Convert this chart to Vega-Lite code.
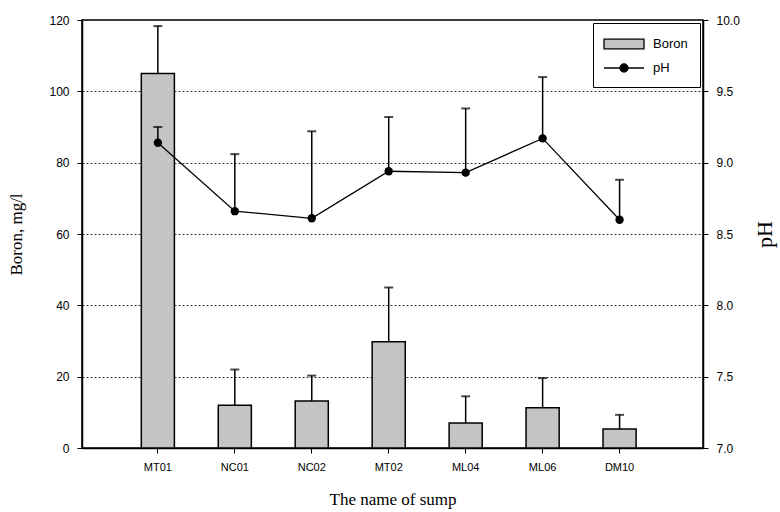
{
  "$schema": "https://vega.github.io/schema/vega-lite/v6.json",
  "width": 621,
  "height": 428,
  "autosize": {"type": "none"},
  "padding": {"left": 82, "top": 20, "right": 77, "bottom": 64},
  "background": "white",
  "config": {
    "view": {"stroke": "black", "strokeWidth": 1.5},
    "axis": {"labelFont": "Liberation Sans", "labelFontSize": 12, "labelColor": "black", "titleFont": "Liberation Serif", "titleFontWeight": "normal", "titleColor": "black", "domainColor": "black", "tickColor": "black"}
  },
  "data": {"values": [
    {"sump": "MT01", "boron": 105, "boron_hi": 118.3, "ph": 9.14, "ph_hi": 9.25, "s1": "Boron", "s2": "pH"},
    {"sump": "NC01", "boron": 12, "boron_hi": 22, "ph": 8.66, "ph_hi": 9.06, "s1": "Boron", "s2": "pH"},
    {"sump": "NC02", "boron": 13.2, "boron_hi": 20.3, "ph": 8.61, "ph_hi": 9.22, "s1": "Boron", "s2": "pH"},
    {"sump": "MT02", "boron": 29.8, "boron_hi": 45, "ph": 8.94, "ph_hi": 9.32, "s1": "Boron", "s2": "pH"},
    {"sump": "ML04", "boron": 7, "boron_hi": 14.5, "ph": 8.93, "ph_hi": 9.38, "s1": "Boron", "s2": "pH"},
    {"sump": "ML06", "boron": 11.3, "boron_hi": 19.6, "ph": 9.17, "ph_hi": 9.6, "s1": "Boron", "s2": "pH"},
    {"sump": "DM10", "boron": 5.3, "boron_hi": 9.3, "ph": 8.6, "ph_hi": 8.88, "s1": "Boron", "s2": "pH"}
  ]},
  "encoding": {
    "x": {"field": "sump", "type": "nominal", "sort": null,
      "scale": {"paddingInner": 0.57, "paddingOuter": 0.82, "align": 0.47},
      "axis": {"title": "The name of sump", "labelAngle": 0, "labelFontSize": 11, "titleFontSize": 17, "titlePadding": 19, "tickSize": 5, "labelPadding": 8, "domainWidth": 1.5}}
  },
  "layer": [
    {
      "layer": [
        {"mark": {"type": "bar", "stroke": "black", "strokeWidth": 1.5},
          "encoding": {
            "y": {"field": "boron", "type": "quantitative", "scale": {"domain": [0, 120], "nice": false},
              "axis": {"title": "Boron, mg/l", "values": [0, 20, 40, 60, 80, 100, 120], "titleFontSize": 17, "titlePadding": 23, "grid": true, "gridDash": [2, 2], "gridColor": "#333333", "gridWidth": 1, "tickSize": 5, "labelPadding": 8, "domainWidth": 1.5}},
            "color": {"field": "s1", "type": "nominal",
              "scale": {"domain": ["Boron", "pH"], "range": ["#c4c4c4", "black"]},
              "legend": {"title": null, "orient": "top-right", "offset": 3, "strokeColor": "black", "padding": 12, "fillColor": "white",
                "labelFont": "Liberation Sans", "labelFontSize": 13, "labelColor": "black", "symbolSize": 256, "rowPadding": 7, "labelOffset": 30,
                "symbolStrokeColor": "black", "symbolStrokeWidth": 1.3,
                "symbolType": {"expr": "datum.value === 'Boron' ? 'M-1.25,-0.6H3.75V0.6H-1.25Z' : 'M-1.25,0H0.75A0.5,0.5 0 1,1 1.75,0A0.5,0.5 0 1,1 0.75,0M1.75,0H3.75'"}}}}},
        {"mark": {"type": "rule", "color": "black", "strokeWidth": 1.5},
          "encoding": {"y": {"field": "boron", "type": "quantitative"}, "y2": {"field": "boron_hi"}}},
        {"mark": {"type": "tick", "color": "black", "thickness": 2, "size": 9},
          "encoding": {"y": {"field": "boron_hi", "type": "quantitative"}}}
      ]
    },
    {
      "layer": [
        {"mark": {"type": "line", "color": "black", "strokeWidth": 1.3},
          "encoding": {"y": {"field": "ph", "type": "quantitative", "scale": {"domain": [7, 10], "nice": false},
            "axis": {"title": "pH", "orient": "right", "values": [7, 7.5, 8, 8.5, 9, 9.5, 10], "format": ".1f", "titleFontSize": 22, "titleAngle": 270, "titlePadding": 37, "grid": false, "tickSize": 5, "labelPadding": 8, "domainWidth": 1.5}}}},
        {"mark": {"type": "rule", "color": "black", "strokeWidth": 1.5},
          "encoding": {"y": {"field": "ph", "type": "quantitative"}, "y2": {"field": "ph_hi"}}},
        {"mark": {"type": "tick", "color": "black", "thickness": 2, "size": 9},
          "encoding": {"y": {"field": "ph_hi", "type": "quantitative"}}},
        {"mark": {"type": "point", "filled": true, "color": "black", "size": 70, "opacity": 1},
          "encoding": {"y": {"field": "ph", "type": "quantitative"}}}
      ]
    }
  ],
  "resolve": {"scale": {"y": "independent"}}
}
